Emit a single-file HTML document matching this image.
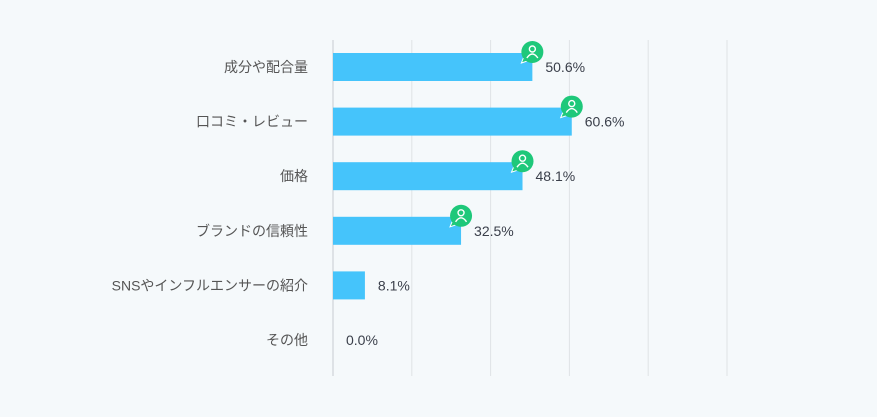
<!DOCTYPE html>
<html><head><meta charset="utf-8"><style>
html,body{margin:0;padding:0;background:#f5f9fb;}
svg{display:block;font-family:"Liberation Sans","Noto Sans CJK JP",sans-serif;}
</style></head><body>
<svg id="chart" width="877" height="417"></svg>
<script>
const categories=["成分や配合量","口コミ・レビュー","価格","ブランドの信頼性","SNSやインフルエンサーの紹介","その他"];
const values=[50.6,60.6,48.1,32.5,8.1,0.0];
const valueLabels=["50.6%","60.6%","48.1%","32.5%","8.1%","0.0%"];
const gridTicks=[0,20,40,60,80,100];
const NS="http://www.w3.org/2000/svg";
const svg=document.getElementById('chart');
const x0=333,pxPer=3.94;
const xs=v=>x0+v*pxPer;
const rowY=i=>67+i*54.6;
function mk(t,a){const e=document.createElementNS(NS,t);for(const k in a)e.setAttribute(k,a[k]);svg.appendChild(e);return e;}
gridTicks.forEach((g,i)=>{
  const l=mk('line',{x1:xs(g),x2:xs(g),y1:40,y2:376,stroke:i==0?'#c8ccd0':'#dfe3e6','stroke-width':1});
  
  
});
categories.forEach((c,i)=>{
  const y=rowY(i);
  const t=mk('text',{x:308,y:y+5,'text-anchor':'end','font-size':14,fill:'#555'});
  t.textContent=c;
  
  
  const w=xs(values[i])-x0;
  if(w>0){
    const r=mk('rect',{x:x0,y:y-14,width:w,height:28,fill:'#45c4fb'});
    
    
  }
  const v=mk('text',{x:xs(values[i])+13,y:y+5,'font-size':14,fill:'#3a3f4a'});
  v.textContent=valueLabels[i];
  
  
  if(values[i]>20){
    const cx=xs(values[i]),cy=y-15;
    const g=document.createElementNS(NS,'g');svg.appendChild(g);
    
    
    g.innerHTML=`<path d="M${cx-9} ${cy+6} L${cx-11} ${cy+11} L${cx-5} ${cy+9} Z" fill="#1ec87a" stroke="#fff" stroke-width="1"/>
<circle cx="${cx}" cy="${cy}" r="11" fill="#1ec87a"/>
<circle cx="${cx}" cy="${cy-3}" r="3" fill="none" stroke="#fff" stroke-width="1.4"/>
<path d="M${cx-5.5} ${cy+6} Q${cx} ${cy-2} ${cx+5.5} ${cy+6}" fill="none" stroke="#fff" stroke-width="1.4"/>`;
  }
});
</script>
</body></html>
